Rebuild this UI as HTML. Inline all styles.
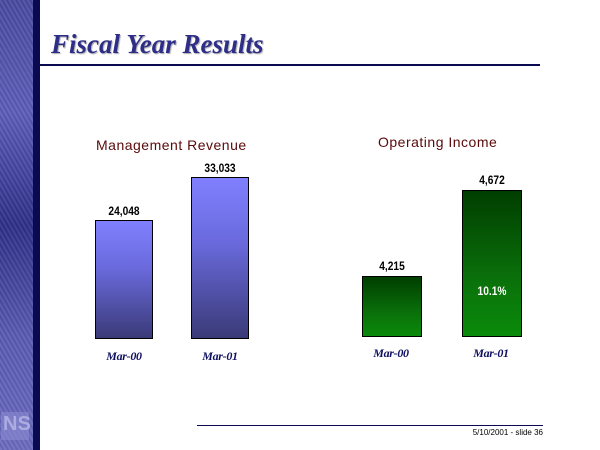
<!DOCTYPE html>
<html><head><meta charset="utf-8"><style>
*{margin:0;padding:0}
body{width:600px;height:450px;position:relative;background:#fff;overflow:hidden;font-family:"Liberation Sans",sans-serif}
.abs{position:absolute}
.strip{left:0;top:0;width:33px;height:450px;background:linear-gradient(180deg,#4a4aa0 0%,#5c5cb8 25%,#2e2e88 50%,#5a5ab2 75%,#6a6abf 100%)}
.streak{left:0;top:0;width:33px;height:450px;background:repeating-linear-gradient(60deg,rgba(255,255,255,0.08) 0 2px,rgba(0,0,0,0.05) 2px 4px)}
.navy{left:33px;top:0;width:7px;height:450px;background:#0a0a50}
.title{left:51px;top:29px;font-family:"Liberation Serif",serif;font-style:italic;font-weight:bold;font-size:27px;color:#2e2e88;text-shadow:1px 1px 1px #aaa}
.rule{left:40px;top:64px;width:500px;height:2px;background:#0a0a50}
.ct{font-size:14px;color:#5a0a0a;letter-spacing:0.5px}
.bar{border:1px solid #000;box-sizing:border-box}
.blue{background:linear-gradient(180deg,#8080ff 0%,#6a6add 40%,#3a3a78 100%)}
.green{background:linear-gradient(180deg,#003e00 0%,#0a700a 60%,#0a8a0a 100%)}
.val{font-family:"Liberation Sans Narrow","Liberation Sans",sans-serif;font-weight:bold;font-size:12px;color:#000;text-align:center;width:80px;transform:scaleX(0.85)}
.cat{font-family:"Liberation Serif",serif;font-style:italic;font-weight:bold;font-size:12px;color:#101060;text-align:center;width:80px;letter-spacing:-0.3px}
</style></head><body>
<div class="abs strip"></div><div class="abs streak"></div>
<div class="abs" style="left:1px;top:412px;width:28px;height:28px;background:#8a8ad0;opacity:.6"></div>
<div class="abs" style="left:3px;top:413px;font-size:20px;color:#b8b8e8;font-weight:bold;opacity:.8">NS</div>
<div class="abs navy"></div>
<div class="abs title">Fiscal Year Results</div>
<div class="abs rule"></div>

<div class="abs ct" style="left:96px;top:137px">Management Revenue</div>
<div class="abs ct" style="left:378px;top:134px">Operating Income</div>

<div class="abs bar blue" style="left:95px;top:220px;width:58px;height:119px"></div>
<div class="abs bar blue" style="left:191px;top:177px;width:58px;height:162px"></div>
<div class="abs val" style="left:84px;top:204px">24,048</div>
<div class="abs val" style="left:180px;top:161px">33,033</div>

<div class="abs bar green" style="left:362px;top:276px;width:60px;height:61px"></div>
<div class="abs bar green" style="left:462px;top:190px;width:60px;height:147px"></div>
<div class="abs val" style="left:352px;top:259px">4,215</div>
<div class="abs val" style="left:452px;top:173px">4,672</div>
<div class="abs val" style="left:452px;top:284px;color:#fff">10.1%</div>

<div class="abs cat" style="left:84px;top:349px">Mar-00</div>
<div class="abs cat" style="left:180px;top:349px">Mar-01</div>
<div class="abs cat" style="left:351px;top:346px">Mar-00</div>
<div class="abs cat" style="left:451px;top:346px">Mar-01</div>

<div class="abs" style="left:197px;top:425px;width:346px;height:1px;background:#0a0a50"></div>
<div class="abs" style="left:443px;top:428px;width:100px;text-align:right;font-size:8px;color:#000">5/10/2001 - slide 36</div>
</body></html>
